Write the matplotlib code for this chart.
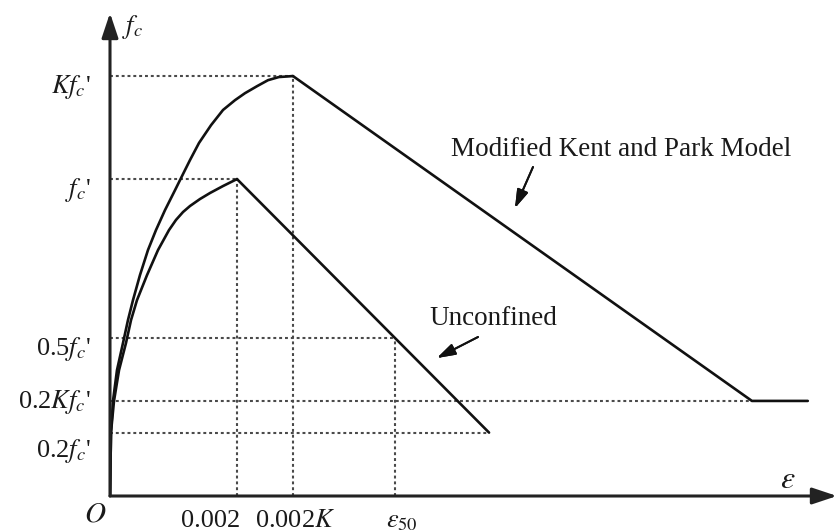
import matplotlib
matplotlib.use("Agg")
import matplotlib.pyplot as plt

plt.rcParams['font.family'] = ['Liberation Serif', 'DejaVu Serif']
plt.rcParams['mathtext.fontset'] = 'stix'

# strain in units of 1e-3, stress normalised by f'c
eps_conf = [0.0, 0.016, 0.047, 0.110, 0.205, 0.283, 0.362, 0.472, 0.598, 0.724,
            0.866, 1.024, 1.118, 1.260, 1.402, 1.591, 1.780, 1.969, 2.126, 2.315,
            2.488, 2.661, 2.882]
fc_conf = [0.0, 0.202, 0.300, 0.397, 0.483, 0.555, 0.618, 0.697, 0.776, 0.839,
           0.902, 0.965, 1.003, 1.060, 1.114, 1.170, 1.218, 1.249, 1.271, 1.293,
           1.312, 1.322, 1.325]
eps_conf_tail = [2.882, 10.11, 10.99]
fc_conf_tail = [1.325, 0.300, 0.300]

eps_unc = [0.0, 0.016, 0.063, 0.142, 0.252, 0.331, 0.425, 0.583, 0.756, 0.929,
           1.039, 1.150, 1.260, 1.417, 1.575, 1.780, 2.0]
fc_unc = [0.0, 0.202, 0.300, 0.397, 0.483, 0.555, 0.618, 0.697, 0.776, 0.839,
          0.871, 0.896, 0.915, 0.937, 0.956, 0.978, 1.0]
eps_unc_tail = [2.0, 5.97]
fc_unc_tail = [1.0, 0.2]

# reference levels and strains for the dotted guides
levels = [1.325, 1.0, 0.5, 0.300, 0.2]
level_ends = [2.882, 2.0, 4.49, 10.11, 5.97]
strains = [2.0, 2.882, 4.49]
strain_tops = [1.0, 1.325, 0.5]

level_labels = ["$Kf_c$'", "$f_c$'", "0.5$f_c$'", "0.2$Kf_c$'", "0.2$f_c$'"]
level_label_base = [93, 196, 355, 408, 457]
strain_labels = ["0.002", "0.002$K$", r"$\varepsilon_{50}$"]
strain_label_x = [211, 295, 402]

W, H = 837, 532
fig = plt.figure(figsize=(W / 100, H / 100), dpi=100)
ax = fig.add_axes([110 / W, 36 / H, 727 / W, 483 / H])
ax.set_xlim(0, 11.45)
ax.set_ylim(0, 1.524)
ax.axis('off')


def fxy(px, py):
    return px / W, 1 - py / H


guide = dict(color='#4a4a4a', lw=1.5, ls=(0, (1.4, 1.4)), zorder=1)
for lv, xe in zip(levels, level_ends):
    ax.plot([0, xe], [lv, lv], **guide)
for st, yt in zip(strains, strain_tops):
    ax.plot([st, st], [0, yt], **guide)

curve = dict(color='#111111', lw=1.9, solid_joinstyle='round',
             solid_capstyle='round', zorder=3)
ax.plot(eps_conf, fc_conf, **curve)
ax.plot(eps_conf_tail, fc_conf_tail, **curve)
ax.plot(eps_unc, fc_unc, **curve)
ax.plot(eps_unc_tail, fc_unc_tail, **curve)

# axes with arrow heads
axis_arrow = dict(arrowstyle='-|>,head_length=0.75,head_width=0.25',
                  mutation_scale=20, color='#222222', lw=2.2,
                  shrinkA=0, shrinkB=0)
ax.annotate('', xy=(11.45, 0), xytext=(0, 0), arrowprops=axis_arrow,
            annotation_clip=False)
ax.annotate('', xy=(0, 1.524), xytext=(0, 0), arrowprops=axis_arrow,
            annotation_clip=False)

fs = 19
tc = '#1a1a1a'
for lab, yb in zip(level_labels, level_label_base):
    fig.text(*fxy(91, yb), lab, ha='right', va='baseline', fontsize=fs, color=tc)
for lab, xc in zip(strain_labels, strain_label_x):
    fig.text(*fxy(xc, 527), lab, ha='center', va='baseline', fontsize=fs, color=tc)
fig.text(*fxy(95, 514), "$O$", ha='center', va='center', fontsize=fs + 2, color=tc)
fig.text(*fxy(122, 27), "$f_c$", ha='left', va='center', fontsize=fs, color=tc)
fig.text(*fxy(788, 480), r"$\varepsilon$", ha='center', va='center',
         fontsize=fs + 4, color=tc)

# curve annotations
fig.text(*fxy(621, 156), "Modified Kent and Park Model", ha='center',
         va='baseline', fontsize=19.5, color=tc)
fig.text(*fxy(493, 325), "Unconfined", ha='center', va='baseline',
         fontsize=19.5, color=tc)
pointer = dict(arrowstyle='-|>,head_length=0.8,head_width=0.25',
               mutation_scale=14, color='#111111', lw=1.4,
               shrinkA=0, shrinkB=0)
fig.add_artist(plt.annotate('', xy=fxy(515, 208), xytext=fxy(533, 167),
                            xycoords='figure fraction',
                            textcoords='figure fraction', arrowprops=pointer))
fig.add_artist(plt.annotate('', xy=fxy(437, 358), xytext=fxy(478, 337),
                            xycoords='figure fraction',
                            textcoords='figure fraction', arrowprops=pointer))

fig.savefig('out.png', dpi=100)
